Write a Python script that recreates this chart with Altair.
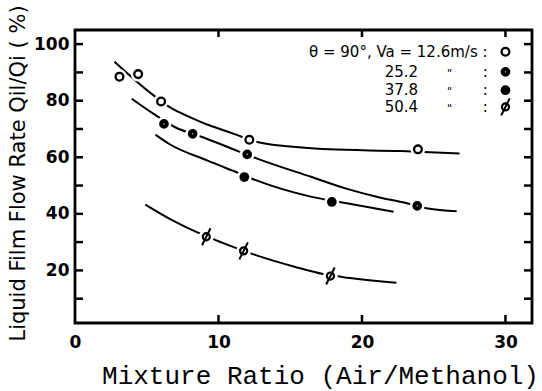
import altair as alt
import pandas as pd

# ---- measured points (Mixture ratio, Liquid film flow rate %) ----
p126_x = [3.1, 4.4, 6.0, 12.15, 23.9]
p126_y = [88.5, 89.4, 79.7, 66.2, 62.8]
p252_x = [6.2, 8.2, 12.0, 23.85]
p252_y = [71.8, 68.3, 61.0, 42.8]
p378_x = [11.8, 17.9]
p378_y = [53.0, 44.2]
p504_x = [9.15, 11.75, 17.8]
p504_y = [31.9, 26.9, 18.0]

# ---- hand-drawn fitted curves ----
c126_x = [2.75, 5.2, 6.6, 8.0, 9.2, 10.5, 11.7, 12.7, 15.0, 17.7, 22.7, 26.8]
c126_y = [93.8, 83.0, 77.7, 74.2, 71.6, 69.3, 67.1, 65.4, 63.8, 62.8, 62.2, 61.3]
c252_x = [3.95, 5.4, 6.95, 9.0, 11.4, 12.7, 16.5, 18.9, 21.3, 23.0, 24.6, 26.6]
c252_y = [80.7, 75.6, 70.7, 66.9, 62.1, 59.5, 53.0, 48.9, 45.7, 43.9, 41.9, 40.9]
c378_x = [5.6, 6.6, 9.2, 11.4, 12.6, 16.5, 18.75, 22.2]
c378_y = [68.0, 64.6, 58.9, 54.4, 51.9, 46.0, 43.9, 40.7]
c504_x = [4.9, 6.8, 8.8, 10.2, 12.6, 15.3, 17.3, 18.6, 22.4]
c504_y = [43.3, 37.7, 32.8, 29.9, 25.4, 21.3, 18.7, 17.7, 15.6]

# ---- axes ----
x_labels = [0, 10, 20, 30]
y_labels = [20, 40, 60, 80, 100]
x_minor = [10, 20, 30]
y_minor = [10, 20, 30, 40, 50, 60, 70, 80, 90, 100]

# ---- legend text ----
legend_first = "θ = 90°, Va = 12.6m/s :"
legend_values = ["25.2", "37.8", "50.4"]
legend_rows_y = [97.3, 90.2, 83.7, 77.8]

W, H = 457, 293
xs = alt.Scale(domain=[0, 31.85], nice=False, zero=False)
ys = alt.Scale(domain=[1.4, 105], nice=False, zero=False)
LABEL_FONT = "DejaVu Sans"

x_axis = alt.Axis(values=x_labels, format="d", title="Mixture Ratio (Air/Methanol)",
                  titleFont="Liberation Mono", titleFontSize=26, titleFontWeight="normal",
                  titleColor="black", titleX=245, titleY=60, titleAlign="center",
                  titleBaseline="alphabetic", labelFont=LABEL_FONT, labelFontSize=17,
                  labelFontWeight="bold", labelColor="black", labelPadding=11,
                  labelFlush=False, ticks=False, tickSize=0, domain=False, grid=False)
y_axis = alt.Axis(values=y_labels, format="d", title="Liquid Film Flow Rate Qil/Qi ( %)",
                  titleFont=LABEL_FONT, titleFontSize=21, titleFontWeight="normal",
                  titleColor="black", titleAngle=270, titleX=-51, titleY=143,
                  titleAlign="center", titleBaseline="alphabetic",
                  labelFont=LABEL_FONT, labelFontSize=17, labelFontWeight="bold",
                  labelColor="black", labelPadding=6, ticks=False, tickSize=0,
                  domain=False, grid=False)


def df(xv, yv):
    return pd.DataFrame({"x": xv, "y": yv})


def X():
    return alt.X("x:Q", scale=xs, axis=x_axis)


def Y():
    return alt.Y("y:Q", scale=ys, axis=y_axis)


layers = []

# curves
for cx, cy in [(c126_x, c126_y), (c252_x, c252_y), (c378_x, c378_y), (c504_x, c504_y)]:
    layers.append(alt.Chart(df(cx, cy)).mark_line(color="black", strokeWidth=2,
                                                  interpolate="monotone").encode(x=X(), y=Y()))

# white halos that break the curves around the symbols
all_px = p126_x + p252_x + p378_x + p504_x
all_py = p126_y + p252_y + p378_y + p504_y
layers.append(alt.Chart(df(all_px, all_py)).mark_point(shape="circle", filled=True, color="white",
                                                       opacity=1, size=220).encode(x=X(), y=Y()))

# legend rows (annotation)
leg_sym_x = [30.0]
leg_text = pd.DataFrame({"x": [28.75], "y": [legend_rows_y[0]], "t": [legend_first]})
leg_vals = pd.DataFrame({"x": [22.75] * 3, "y": legend_rows_y[1:], "t": legend_values})
leg_ditto = pd.DataFrame({"x": [26.1] * 3, "y": legend_rows_y[1:], "t": ['"'] * 3})
leg_colon = pd.DataFrame({"x": [28.6] * 3, "y": legend_rows_y[1:], "t": [":"] * 3})
layers.append(alt.Chart(leg_text).mark_text(align="right", baseline="middle", font=LABEL_FONT,
                                            fontSize=15, color="black").encode(x=X(), y=Y(), text="t:N"))
layers.append(alt.Chart(leg_vals).mark_text(align="center", baseline="middle", font=LABEL_FONT,
                                            fontSize=15, color="black").encode(x=X(), y=Y(), text="t:N"))
layers.append(alt.Chart(leg_ditto).mark_text(align="center", baseline="middle", font=LABEL_FONT,
                                             fontSize=11, color="black", dy=2).encode(x=X(), y=Y(), text="t:N"))
layers.append(alt.Chart(leg_colon).mark_text(align="center", baseline="middle", font=LABEL_FONT,
                                             fontSize=15, color="black").encode(x=X(), y=Y(), text="t:N"))

# symbols: data + legend
open_df = df(p126_x + leg_sym_x, p126_y + [legend_rows_y[0]])
half_df = df(p252_x + leg_sym_x, p252_y + [legend_rows_y[1]])
full_df = df(p378_x + leg_sym_x, p378_y + [legend_rows_y[2]])
phi_df = df(p504_x + leg_sym_x, p504_y + [legend_rows_y[3]])

layers.append(alt.Chart(open_df).mark_point(shape="circle", filled=False, fill="white", fillOpacity=1,
                                            stroke="black", strokeWidth=2.3, size=60, opacity=1
                                            ).encode(x=X(), y=Y()))
layers.append(alt.Chart(half_df).mark_point(shape="circle", filled=False, fill="white", fillOpacity=1,
                                            stroke="black", strokeWidth=4.2, size=30, opacity=1
                                            ).encode(x=X(), y=Y()))
layers.append(alt.Chart(full_df).mark_point(shape="circle", filled=True, color="black",
                                            size=95, opacity=1).encode(x=X(), y=Y()))
layers.append(alt.Chart(phi_df).mark_point(shape="circle", filled=False, fill="white", fillOpacity=1,
                                           stroke="black", strokeWidth=2.2, size=50, opacity=1
                                           ).encode(x=X(), y=Y()))
layers.append(alt.Chart(phi_df).mark_point(shape="M-0.5,1L0.5,-1", filled=False, stroke="black",
                                           strokeWidth=2, size=289, opacity=1).encode(x=X(), y=Y()))

# inward tick marks on all four sides
ytk = pd.DataFrame({"y": y_minor})
xtk = pd.DataFrame({"x": x_minor})
layers.append(alt.Chart(ytk).mark_rule(color="black", strokeWidth=2.5).encode(
    y=Y(), x=alt.value(0), x2=alt.value(8)))
layers.append(alt.Chart(ytk).mark_rule(color="black", strokeWidth=2.5).encode(
    y=Y(), x=alt.value(W - 8), x2=alt.value(W)))
layers.append(alt.Chart(xtk).mark_rule(color="black", strokeWidth=2.5).encode(
    x=X(), y=alt.value(H), y2=alt.value(H - 8)))
layers.append(alt.Chart(xtk).mark_rule(color="black", strokeWidth=2.5).encode(
    x=X(), y=alt.value(0), y2=alt.value(7)))

chart = alt.layer(*layers).properties(
    width=W, height=H,
    padding={"left": 75, "top": 30, "right": 10, "bottom": 68},
    autosize=alt.AutoSizeParams(type="none"),
    background="white",
).configure_view(stroke="black", strokeWidth=2.8)

chart.save("out.html", embed_options={"renderer": "svg", "actions": False})
